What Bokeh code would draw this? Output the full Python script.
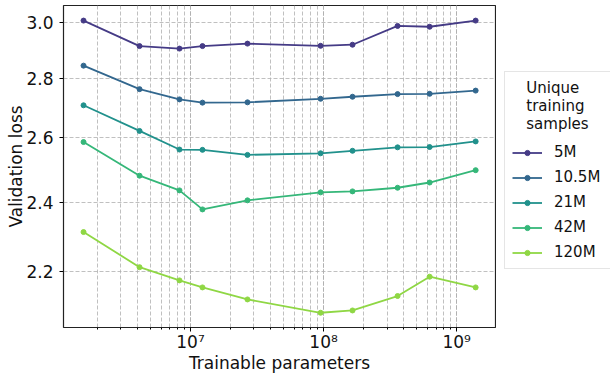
from bokeh.plotting import figure
from bokeh.layouts import row
from bokeh.models import (Range1d, FixedTicker, PrintfTickFormatter, Legend, LegendItem,
                          LogTicker, CustomJSTickFormatter)
from bokeh.embed import file_html
from bokeh.resources import INLINE

params = [1.57e6, 4.14e6, 8.26e6, 1.23e7, 2.68e7, 9.5e7, 1.65e8, 3.6e8, 6.27e8, 1.39e9]
loss_5m = [3.008, 2.914, 2.905, 2.914, 2.923, 2.915, 2.919, 2.988, 2.985, 3.008]
loss_10m = [2.844, 2.762, 2.727, 2.716, 2.717, 2.729, 2.736, 2.745, 2.746, 2.757]
loss_21m = [2.707, 2.622, 2.562, 2.561, 2.545, 2.550, 2.558, 2.569, 2.570, 2.588]
loss_42m = [2.586, 2.480, 2.435, 2.378, 2.405, 2.429, 2.432, 2.443, 2.459, 2.497]
loss_120m = [2.312, 2.213, 2.177, 2.158, 2.126, 2.091, 2.097, 2.135, 2.187, 2.158]
labels = ["5M", "10.5M", "21M", "42M", "120M"]
colors = ["#453b86", "#32678e", "#21918c", "#35b779", "#8fd744"]
y_ticks = [2.2, 2.4, 2.6, 2.8, 3.0]
legend_title = "Unique\ntraining\nsamples"

FONT = "DejaVu Sans"
NB = "\u00a0"

p = figure(width=496, height=375, x_axis_type="log", y_axis_type="log",
           x_range=Range1d(1.11e6, 1.96e9), y_range=Range1d(2.053, 3.065),
           output_backend="svg", toolbar_location=None,
           min_border_left=63, min_border_right=1, min_border_top=5, min_border_bottom=48)

p.outline_line_color = "#222222"
p.outline_line_width = 1.2
p.background_fill_color = "white"
p.border_fill_color = "white"

for ax in (p.xaxis, p.yaxis):
    ax.axis_line_color = None
    ax.major_tick_out = 4
    ax.major_tick_in = 0
    ax.minor_tick_out = 2
    ax.minor_tick_in = 0
    ax.major_label_text_font = FONT
    ax.major_label_text_font_size = "17px"
    ax.major_label_text_color = "#111111"
    ax.axis_label_text_font = FONT
    ax.axis_label_text_font_size = "17px"
    ax.axis_label_text_font_style = "normal"
    ax.axis_label_text_color = "#111111"

p.xaxis.ticker = LogTicker(num_minor_ticks=10)
p.xaxis.formatter = CustomJSTickFormatter(code="""
    const sup = "\u2070\u00b9\u00b2\u00b3\u2074\u2075\u2076\u2077\u2078\u2079";
    const e = Math.round(Math.log10(tick));
    return "10" + String(e).split("").map(d => sup[parseInt(d)]).join("");
""")
p.xaxis.axis_label = "Trainable parameters"
p.xaxis.axis_label_standoff = -2
p.xaxis.major_label_standoff = 0
p.yaxis.ticker = FixedTicker(ticks=y_ticks, minor_ticks=[])
p.yaxis.formatter = PrintfTickFormatter(format="%.1f")
p.yaxis.axis_label = "Validation loss"
p.yaxis.axis_label_standoff = -3
p.yaxis.major_label_standoff = 6

p.xgrid.grid_line_color = "#b0b0b0"
p.xgrid.grid_line_dash = "4 2"
p.xgrid.grid_line_width = 0.8
p.xgrid.minor_grid_line_color = "#b0b0b0"
p.xgrid.minor_grid_line_dash = "4 2"
p.xgrid.minor_grid_line_width = 0.8
p.ygrid.grid_line_color = "#b0b0b0"
p.ygrid.grid_line_dash = "4 2"
p.ygrid.grid_line_width = 0.8

series = [loss_5m, loss_10m, loss_21m, loss_42m, loss_120m]
for ys, lab, col in zip(series, labels, colors):
    p.line(params, ys, line_color=col, line_width=1.8)
    p.scatter(params, ys, size=5, fill_color=col, line_color=col)

# legend panel (separate plot so the legend box can run to the page edge)
P2W, P2H = 114, 375
p2 = figure(width=P2W, height=P2H, x_range=Range1d(0, P2W), y_range=Range1d(0, P2H),
            x_axis_location=None, y_axis_location=None,
            output_backend="svg", toolbar_location=None,
            min_border_left=0, min_border_right=0, min_border_top=0, min_border_bottom=0)
p2.grid.visible = False
p2.outline_line_color = None

# soft drop shadow under the legend box (decoration, in panel pixels)
p2.quad(left=[11], right=[P2W + 5], bottom=[P2H - 273], top=[P2H - 79],
        fill_color="#aaaaaa", fill_alpha=0.6, line_color=None)

items = []
for lab, col in zip(labels, colors):
    r1 = p2.line(x=[-50, -40], y=[-50, -40], line_color=col, line_width=1.8)
    r2 = p2.scatter(x=[-50], y=[-50], fill_color=col, line_color=col)
    items.append(LegendItem(label=lab, renderers=[r1, r2]))

title = "\n".join(NB * 3 + t for t in legend_title.split("\n"))
legend = Legend(items=items, location=(8, 58),
                title=title,
                title_text_font=FONT, title_text_font_size="15px",
                title_text_font_style="normal", title_text_color="#111111",
                title_standoff=10,
                label_text_font=FONT, label_text_font_size="15px",
                label_text_color="#111111",
                glyph_width=30, glyph_height=13, spacing=7,
                label_standoff=12, label_width=62, padding=7, margin=0,
                border_line_color="#cccccc", border_line_width=1,
                background_fill_color="white", background_fill_alpha=1.0)
p2.add_layout(legend, "center")

open("out.html", "w").write(file_html(row(p, p2), INLINE))
